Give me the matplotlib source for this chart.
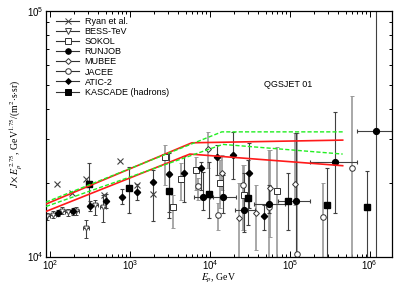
import matplotlib
matplotlib.use("Agg")
from matplotlib import pyplot as plt
from matplotlib.lines import Line2D
from matplotlib.ticker import NullFormatter
import numpy as np

plt.rcParams["font.family"] = ["Liberation Sans", "DejaVu Sans"]
plt.rcParams["mathtext.fontset"] = "stix"

# model bands (QGSJET 01)
RED_HI_E = [89, 5957, 4.6e5]
RED_HI_J = [16350, 29030, 29770]
RED_LO_E = [89, 5623, 4.6e5]
RED_LO_J = [15255, 26120, 23420]
GRN_HI_E = [89, 14125, 4.6e5]
GRN_HI_J = [16650, 32160, 32160]
GRN_LO_E = [89, 14540, 4.6e5]
GRN_LO_J = [15980, 28600, 26120]

# Ryan et al.
RYAN_E = [121, 191, 286, 473, 761, 1213, 1922]
RYAN_J = [19700, 18160, 20600, 17820, 24530, 19520, 17900]

# BESS-TeV
BESS_E = [91, 110, 140, 169, 211, 282, 365, 464]
BESS_J = [14550, 14790, 15360, 15120, 15290, 13100, 16170, 15900]
BESS_LO = [14100, 14300, 14850, 14600, 14750, 11900, 14800, 13860]
BESS_HI = [15000, 15300, 15900, 15650, 15850, 14100, 17010, 17820]

# SOKOL
SOKOL_E = [2738, 3420, 4305, 6683, 13340, 26610, 69370]
SOKOL_J = [25330, 15890, 20700, 22440, 19990, 17820, 18550]
SOKOL_LO = [19560, 13100, 17010, 18670, 15790, 12860, 9500]
SOKOL_HI = [28410, 17820, 24020, 25400, 24710, 23580, 27870]

# RUNJOB
RUNJOB_E = [8175, 14760, 26850, 55100, 121300, 365200, 1213000]
RUNJOB_ELO = [6310, 10000, 20400, 35500, 71000, 178000, 690000]
RUNJOB_EHI = [10960, 21540, 36500, 86600, 178000, 690000, 1900000]
RUNJOB_J = [17420, 17420, 15500, 16390, 16750, 24170, 32450]
RUNJOB_LO = [15500, 15070, 12620, 15070, 9500, 15030, 9000]
RUNJOB_HI = [22000, 21480, 21880, 19560, 31770, 38780, 120000]

# MUBEE
MUBEE_E = [9520, 14260, 23400, 38100, 57020, 117200]
MUBEE_J = [27290, 21830, 14350, 15030, 18970, 19700]
MUBEE_LO = [22930, 18670, 9500, 10670, 12000, 16240]
MUBEE_HI = [32060, 25880, 19930, 19560, 27120, 31770]

# JACEE
JACEE_E = [7140, 12480, 25650, 55100, 123300, 261000, 608000]
JACEE_J = [19330, 14790, 19560, 15890, 10210, 14420, 22990]
JACEE_LO = [17010, 12860, 12860, 9500, 9500, 9500, 9500]
JACEE_HI = [20880, 16550, 23580, 27120, 31770, 19930, 45000]

# ATIC-2
ATIC_E = [127, 196, 316, 501, 787, 1223, 1923, 3097, 4797, 7650, 12340, 19220, 30730, 47760]
ATIC_J = [15030, 15260, 16020, 16750, 17500, 18330, 20060, 21580, 21950, 22860, 25330, 25880, 21950, 14650]
ATIC_LO = [14600, 14800, 15300, 15700, 16300, 17000, 13900, 15230, 16700, 18670, 21480, 20770, 15730, 12860]
ATIC_HI = [15500, 15750, 16800, 17900, 18800, 19800, 22500, 26330, 25540, 24360, 28410, 32140, 28840, 16240]

# KASCADE (hadrons)
KASC_E = [310, 971, 3073, 9640, 30130, 95300, 295900, 935000]
KASC_J = [19700, 19080, 18490, 17990, 17330, 16820, 16240, 15890]
KASC_LO = [15980, 15030, 14390, 14390, 13480, 12860, 9500, 9500]
KASC_HI = [23920, 23070, 22090, 24240, 24710, 21880, 22860, 22390]


def yerr(j, lo, hi):
    j = np.array(j, float)
    return [j - np.array(lo, float), np.array(hi, float) - j]


fig = plt.figure(figsize=(4.07, 2.85), dpi=100)
ax = fig.add_axes([0.113, 0.1, 0.849, 0.862])

# model lines
ax.plot(RED_HI_E, RED_HI_J, color="#ff1a1a", lw=1.2, zorder=4)
ax.plot(RED_LO_E, RED_LO_J, color="#ff1a1a", lw=1.2, zorder=4)
ax.plot(GRN_HI_E, GRN_HI_J, color="#22ee22", lw=1.0, ls=(0, (3, 1.5)), zorder=4)
ax.plot(GRN_LO_E, GRN_LO_J, color="#22ee22", lw=1.0, ls=(0, (3, 1.5)), zorder=4)

light = dict(ecolor="0.6", elinewidth=1.2, capsize=1.2, capthick=0.8, ls="none")
dark = dict(ecolor="0.25", elinewidth=0.8, capsize=1.2, capthick=0.8, ls="none")

ax.plot(RYAN_E, RYAN_J, "x", color="0.25", ms=4, mew=0.8, ls="none")
bess_e = np.array(BESS_E, float)
ax.errorbar(BESS_E, BESS_J, yerr=yerr(BESS_J, BESS_LO, BESS_HI),
            xerr=[bess_e * 0.08, bess_e * 0.09], fmt="v", mfc="white",
            mec="0.3", ms=3.5, mew=0.7, **dark)
ax.errorbar(SOKOL_E, SOKOL_J, yerr=yerr(SOKOL_J, SOKOL_LO, SOKOL_HI),
            fmt="s", mfc="white", mec="0.2", ms=4, mew=0.7, **light)
ax.errorbar(MUBEE_E, MUBEE_J, yerr=yerr(MUBEE_J, MUBEE_LO, MUBEE_HI),
            fmt="D", mfc="white", mec="0.2", ms=3, mew=0.7, **light)
ax.errorbar(JACEE_E, JACEE_J, yerr=yerr(JACEE_J, JACEE_LO, JACEE_HI),
            fmt="o", mfc="white", mec="0.2", ms=4, mew=0.7, **light)
ax.errorbar(ATIC_E, ATIC_J, yerr=yerr(ATIC_J, ATIC_LO, ATIC_HI),
            fmt="D", color="k", ms=3.2, **dark)
rj_e = np.array(RUNJOB_E, float)
ax.errorbar(RUNJOB_E, RUNJOB_J, yerr=yerr(RUNJOB_J, RUNJOB_LO, RUNJOB_HI),
            xerr=[rj_e - np.array(RUNJOB_ELO), np.array(RUNJOB_EHI) - rj_e],
            fmt="o", color="k", ms=4.2, **dark)
ax.errorbar(KASC_E, KASC_J, yerr=yerr(KASC_J, KASC_LO, KASC_HI),
            fmt="s", color="k", ms=4, **dark)

ax.set_xscale("log")
ax.set_yscale("log")
ax.set_xlim(89, 1.88e6)
ax.set_ylim(1e4, 1e5)
ax.yaxis.set_minor_formatter(NullFormatter())
ax.xaxis.set_minor_formatter(NullFormatter())

ax.tick_params(which="both", direction="in", top=True, right=True,
               labelsize=7, width=0.7, pad=1.5)
ax.tick_params(which="major", length=4)
ax.tick_params(which="minor", length=2)
for s in ax.spines.values():
    s.set_linewidth(0.9)

serif = ["Liberation Serif", "DejaVu Serif"]
ax.set_xlabel("$E_p$, GeV", family=serif, fontsize=7)
ax.xaxis.set_label_coords(0.5, -0.09)
ax.xaxis.label.set_va("center")
ax.set_ylabel("$J\\times E_p^{\\,2.75}$, GeV$^{1.75}$/(m$^2$$\\cdot$s$\\cdot$sr)",
              family=serif, fontsize=7, labelpad=2)

ax.text(0.70, 0.70, "QGSJET 01", transform=ax.transAxes, fontsize=6.5,
        ha="center", va="center")

# legend proxies
entries = [
    ("Ryan et al.", dict(marker="x", mfc="0.25", mec="0.25")),
    ("BESS-TeV", dict(marker="v", mfc="white", mec="0.25")),
    ("SOKOL", dict(marker="s", mfc="white", mec="0.2")),
    ("RUNJOB", dict(marker="o", mfc="k", mec="k")),
    ("MUBEE", dict(marker="D", mfc="white", mec="0.2", ms=3)),
    ("JACEE", dict(marker="o", mfc="white", mec="0.2")),
    ("ATIC-2", dict(marker="D", mfc="k", mec="k", ms=3)),
    ("KASCADE (hadrons)", dict(marker="s", mfc="k", mec="k")),
]
handles = []
for label, kw in entries:
    kw.setdefault("ms", 4)
    handles.append(Line2D([], [], color="0.2", lw=0.8, mew=0.7,
                          label=label, **kw))
ax.legend(handles=handles, loc="upper left", frameon=False, fontsize=6.5,
          handlelength=2.6, handletextpad=0.6, labelspacing=0.12,
          borderaxespad=0.3, bbox_to_anchor=(0.01, 1.0))

fig.savefig("out.png", dpi=100)
